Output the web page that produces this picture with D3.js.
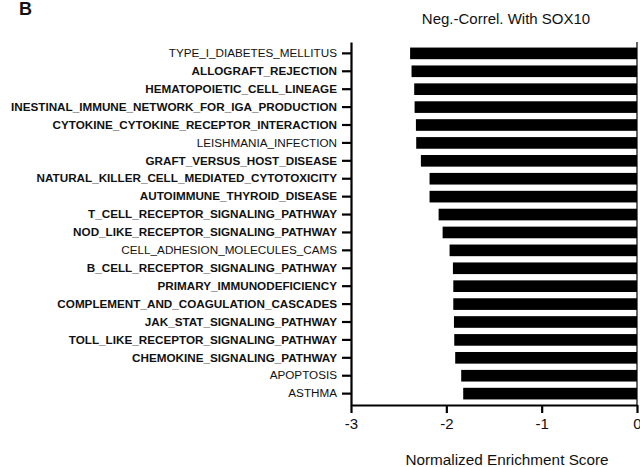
<!DOCTYPE html>
<html>
<head>
<meta charset="utf-8">
<script src="https://cdn.jsdelivr.net/npm/d3@7"></script>
<style>
  body { margin: 0; background: #fff; }
  text { font-family: "Liberation Sans", Arial, sans-serif; fill: #111; }
</style>
</head>
<body>
<div id="chart"></div>
<script>
const pathways = [
  "TYPE_I_DIABETES_MELLITUS",
  "ALLOGRAFT_REJECTION",
  "HEMATOPOIETIC_CELL_LINEAGE",
  "INESTINAL_IMMUNE_NETWORK_FOR_IGA_PRODUCTION",
  "CYTOKINE_CYTOKINE_RECEPTOR_INTERACTION",
  "LEISHMANIA_INFECTION",
  "GRAFT_VERSUS_HOST_DISEASE",
  "NATURAL_KILLER_CELL_MEDIATED_CYTOTOXICITY",
  "AUTOIMMUNE_THYROID_DISEASE",
  "T_CELL_RECEPTOR_SIGNALING_PATHWAY",
  "NOD_LIKE_RECEPTOR_SIGNALING_PATHWAY",
  "CELL_ADHESION_MOLECULES_CAMS",
  "B_CELL_RECEPTOR_SIGNALING_PATHWAY",
  "PRIMARY_IMMUNODEFICIENCY",
  "COMPLEMENT_AND_COAGULATION_CASCADES",
  "JAK_STAT_SIGNALING_PATHWAY",
  "TOLL_LIKE_RECEPTOR_SIGNALING_PATHWAY",
  "CHEMOKINE_SIGNALING_PATHWAY",
  "APOPTOSIS",
  "ASTHMA"
];
const nes = [-2.38, -2.365, -2.337, -2.333, -2.319, -2.316, -2.267, -2.176, -2.176, -2.081,
             -2.039, -1.966, -1.931, -1.927, -1.927, -1.920, -1.917, -1.907, -1.844, -1.823];
// pathways drawn in regular weight, rest bold
const plainLabels = ["TYPE_I_DIABETES_MELLITUS", "LEISHMANIA_INFECTION",
                     "CELL_ADHESION_MOLECULES_CAMS", "APOPTOSIS", "ASTHMA"];
const xTicks = [-3, -2, -1, 0];

const width = 640, height = 467;
const plotLeft = 351, plotRight = 637, plotTop = 42, plotBottom = 405;

const svg = d3.select("#chart").append("svg")
  .attr("width", width).attr("height", height);

const x = d3.scaleLinear().domain([-3, 0]).range([plotLeft, plotRight]);
const y = d3.scaleBand().domain(pathways).range([plotTop, plotBottom])
  .paddingInner(0.35).paddingOuter(0.31);

// bars
svg.selectAll("rect.bar")
  .data(pathways)
  .enter()
  .append("rect")
  .attr("class", "bar")
  .attr("x", (d, i) => x(nes[i]))
  .attr("y", d => y(d))
  .attr("width", (d, i) => x(0) - x(nes[i]))
  .attr("height", y.bandwidth())
  .attr("fill", "#000");

// zero line
svg.append("line")
  .attr("x1", x(0)).attr("x2", x(0))
  .attr("y1", plotTop).attr("y2", plotBottom)
  .attr("stroke", "#000").attr("stroke-width", 1.2);

// y axis
const yAxis = svg.append("g")
  .attr("transform", `translate(${plotLeft},0)`)
  .call(d3.axisLeft(y).tickSize(9).tickPadding(5).tickSizeOuter(0));
yAxis.select(".domain").attr("stroke-width", 2.2);
yAxis.selectAll(".tick line").attr("stroke-width", 2.2);
yAxis.selectAll(".tick text")
  .attr("font-size", 11.7)
  .attr("font-weight", d => plainLabels.includes(d) ? "normal" : "bold")
  .style("font-family", "'Liberation Sans', Arial, sans-serif")
  .attr("fill", "#111");

// x axis
const xAxis = svg.append("g")
  .attr("transform", `translate(0,${plotBottom})`)
  .call(d3.axisBottom(x).tickValues(xTicks).tickFormat(d => String(d)).tickSize(8).tickPadding(5).tickSizeOuter(0));
xAxis.select(".domain").attr("stroke-width", 2.2);
xAxis.selectAll(".tick line").attr("stroke-width", 2.2);
xAxis.selectAll(".tick text")
  .attr("font-size", 15)
  .style("font-family", "'Liberation Sans', Arial, sans-serif")
  .attr("fill", "#111");

// titles
svg.append("text")
  .attr("x", 506).attr("y", 24)
  .attr("text-anchor", "middle")
  .attr("font-size", 15)
  .text("Neg.-Correl. With SOX10");

svg.append("text")
  .attr("x", 507).attr("y", 465)
  .attr("text-anchor", "middle")
  .attr("font-size", 15.3)
  .text("Normalized Enrichment Score");

svg.append("text")
  .attr("x", 19).attr("y", 15)
  .attr("font-size", 18)
  .attr("font-weight", "bold")
  .text("B");
</script>
</body>
</html>
